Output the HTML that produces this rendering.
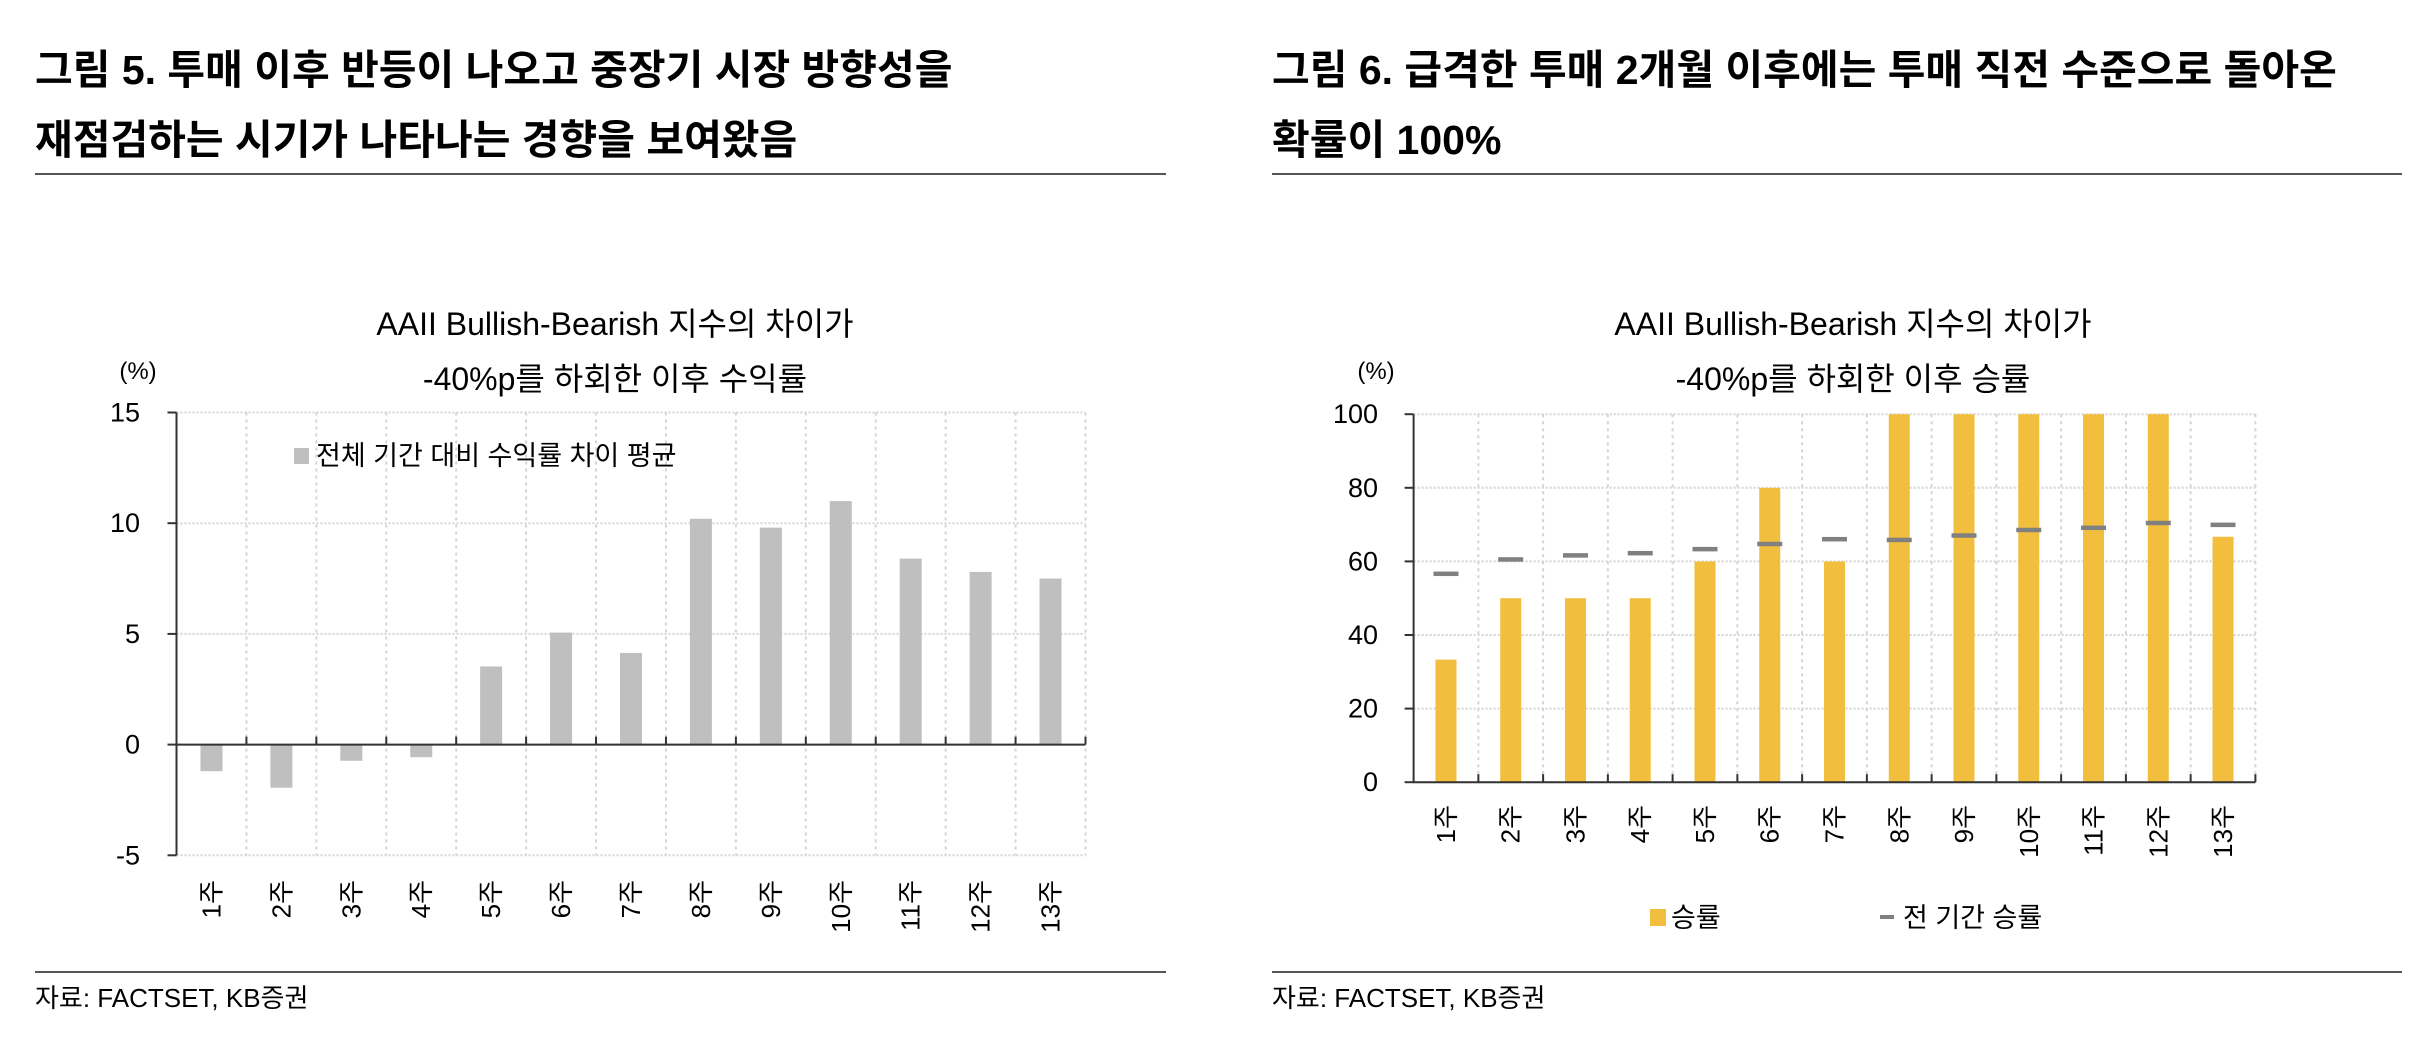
<!DOCTYPE html>
<html><head><meta charset="utf-8"><style>
html,body{margin:0;padding:0;background:#fff;}
svg{display:block;font-family:"Liberation Sans","Noto Sans CJK KR",sans-serif;}
</style></head><body>
<svg id="root" width="2414" height="1064" viewBox="0 0 2414 1064" xmlns="http://www.w3.org/2000/svg">
<g>
<text x="35" y="84" font-size="41" font-weight="bold" fill="#000">그림 5. 투매 이후 반등이 나오고 중장기 시장 방향성을</text>
<text x="35" y="154" font-size="41" font-weight="bold" fill="#000">재점검하는 시기가 나타나는 경향을 보여왔음</text>
<line x1="35" y1="174" x2="1166" y2="174" stroke="#555" stroke-width="2"/>
<line x1="35" y1="972" x2="1166" y2="972" stroke="#555" stroke-width="2"/>
<text x="35" y="1007" font-size="26" fill="#000">자료: FACTSET, KB증권</text>
</g>
<g>
<text x="1272" y="84" font-size="41" font-weight="bold" fill="#000">그림 6. 급격한 투매 2개월 이후에는 투매 직전 수준으로 돌아온</text>
<text x="1272" y="154" font-size="41" font-weight="bold" fill="#000">확률이 100%</text>
<line x1="1272" y1="174" x2="2402" y2="174" stroke="#555" stroke-width="2"/>
<line x1="1272" y1="972" x2="2402" y2="972" stroke="#555" stroke-width="2"/>
<text x="1272" y="1007" font-size="26" fill="#000">자료: FACTSET, KB증권</text>
</g>
<g id="left"></g>
<g id="right"></g>
</svg>
<script>
const weeks = ['1주','2주','3주','4주','5주','6주','7주','8주','9주','10주','11주','12주','13주'];
const excessReturn = [-1.2,-1.95,-0.73,-0.57,3.53,5.06,4.14,10.2,9.8,11.0,8.4,7.8,7.5];
const leftTicks = [-5,0,5,10,15];
const winRate = [33.3,50,50,50,60,80,60,100,100,100,100,100,66.7];
const allPeriodWinRate = [56.7,60.6,61.7,62.3,63.4,64.8,66.1,65.9,67.1,68.6,69.2,70.5,70.0];
const rightTicks = [0,20,40,60,80,100];

const NS='http://www.w3.org/2000/svg';
function mk(parent,tag,attrs,text){const e=document.createElementNS(NS,tag);for(const k in attrs)e.setAttribute(k,attrs[k]);if(text!==undefined)e.textContent=text;parent.appendChild(e);return e;}

function drawChart(g,o){
  const n=weeks.length, step=(o.x1-o.x0)/n;
  const Y=v=>o.yTop+(o.max-v)/(o.max-o.min)*(o.yBot-o.yTop);
  const X=i=>o.x0+step*(i+0.5);
  o.ticks.forEach(t=>{
    const l=mk(g,'line',{x1:o.x0,x2:o.x1,y1:Y(t),y2:Y(t),stroke:'#d4d4d4','stroke-width':2,'stroke-dasharray':'2 2'});
    
    
  });
  for(let i=1;i<=n;i++){
    const l=mk(g,'line',{x1:o.x0+step*i,x2:o.x0+step*i,y1:o.yTop,y2:o.yBot,stroke:'#d4d4d4','stroke-width':2,'stroke-dasharray':'3 4'});
    
    
  }
  o.vals.forEach((v,i)=>{
    const y0=Y(0),y1=Y(v);
    const r=mk(g,'rect',{x:X(i)-o.bw/2,y:Math.min(y0,y1),width:o.bw,height:Math.abs(y1-y0),fill:o.color});
    
    
  });
  if(o.dash){o.dash.forEach((v,i)=>{
    const r=mk(g,'rect',{x:X(i)-12.5,y:Y(v)-2,width:25,height:4.5,fill:'#808080'});
    
    
  });}
  const ya=mk(g,'line',{x1:o.x0,x2:o.x0,y1:o.yTop,y2:o.yBot,stroke:'#333','stroke-width':2});
  
  
  const xa=mk(g,'line',{x1:o.x0-1,x2:o.x1,y1:Y(0),y2:Y(0),stroke:'#333','stroke-width':2});
  
  
  for(let i=1;i<=n;i++){
    const t=mk(g,'line',{x1:o.x0+step*i,x2:o.x0+step*i,y1:Y(0)-8,y2:Y(0),stroke:'#333','stroke-width':2});
    
    
  }
  o.ticks.forEach(t=>{
    const tk=mk(g,'line',{x1:o.x0-9,x2:o.x0,y1:Y(t),y2:Y(t),stroke:'#333','stroke-width':2});
    
    
    const lb=mk(g,'text',{x:o.labR,y:Y(t)+9,'font-size':27,'text-anchor':'end',fill:'#000'},String(t));
    
    
  });
  weeks.forEach((w,i)=>{
    const lb=mk(g,'text',{transform:`translate(${X(i)+9},${o.xlabTop}) rotate(-90)`,'font-size':26,'text-anchor':'end',fill:'#000'},w);
    
    
  });
  const t1=mk(g,'text',{x:o.titleX,y:335,'font-size':32,'text-anchor':'middle',fill:'#000'},'AAII Bullish-Bearish 지수의 차이가');
  
  
  const t2=mk(g,'text',{x:o.titleX,y:390,'font-size':32,'text-anchor':'middle',fill:'#000'},o.title2);
  
  
  const u=mk(g,'text',{x:o.unitX,y:379,'font-size':24,'text-anchor':'middle',fill:'#000'},'(%)');
  
  
}

const L=document.getElementById('left');
drawChart(L,{x0:176.5,x1:1085.5,yTop:412.5,yBot:855.3,min:-5,max:15,ticks:leftTicks,vals:excessReturn,bw:22,color:'#bfbfbf',labR:140,xlabTop:880,titleX:615,title2:'-40%p를 하회한 이후 수익률',unitX:138});
const lsq=mk(L,'rect',{x:294,y:448,width:15,height:16,fill:'#bfbfbf'});


const ltx=mk(L,'text',{x:316,y:465,'font-size':27,fill:'#000'},'전체 기간 대비 수익률 차이 평균');



const R=document.getElementById('right');
drawChart(R,{x0:1413.6,x1:2255.4,yTop:414.2,yBot:782.2,min:0,max:100,ticks:rightTicks,vals:winRate,dash:allPeriodWinRate,bw:21,color:'#f2be3d',labR:1378,xlabTop:805,titleX:1853,title2:'-40%p를 하회한 이후 승률',unitX:1376});
const rsq=mk(R,'rect',{x:1650,y:909,width:16,height:17,fill:'#f2be3d'});


const rtx=mk(R,'text',{x:1671,y:927,'font-size':27,fill:'#000'},'승률');


const rds=mk(R,'rect',{x:1880,y:915,width:14,height:4,fill:'#808080'});


const rtx2=mk(R,'text',{x:1903,y:927,'font-size':27,fill:'#000'},'전 기간 승률');


</script>
</body></html>
